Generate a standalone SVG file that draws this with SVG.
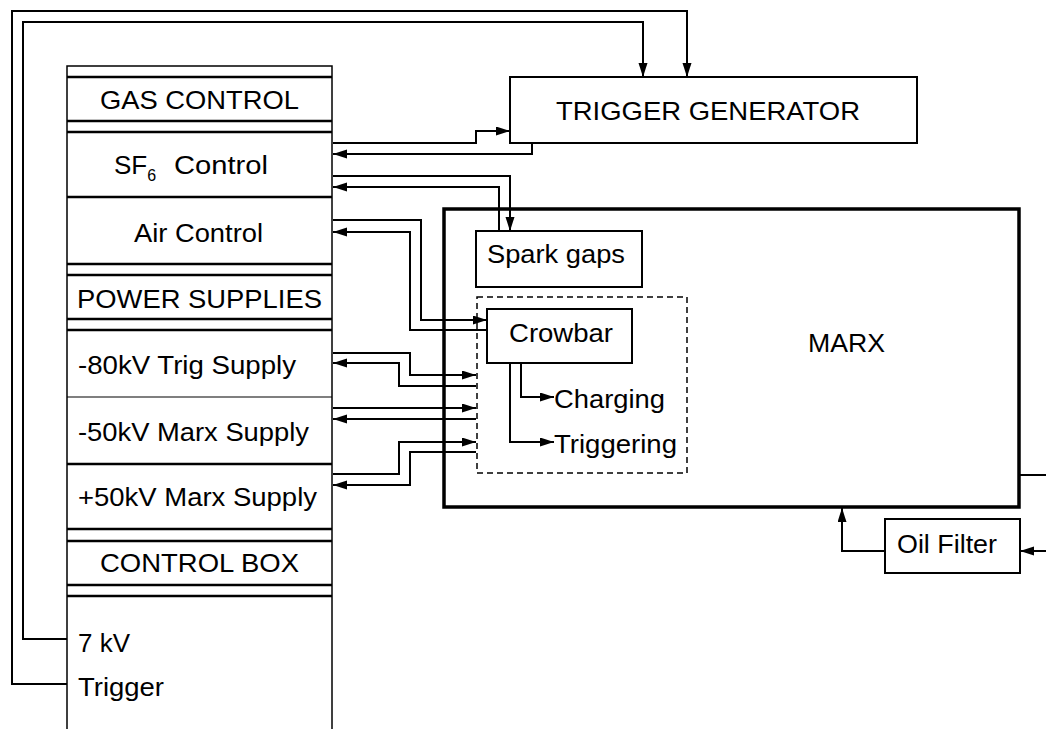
<svg xmlns="http://www.w3.org/2000/svg" width="1046" height="729" viewBox="0 0 1046 729">
<style>
text{font-family:"Liberation Sans",Arial,sans-serif;font-size:26px;fill:#000}
.box{fill:#fff;stroke:#000;stroke-width:2}
.sep{stroke:#000;stroke-width:2.5;fill:none}
.thin{stroke:#000;stroke-width:1.2;fill:none}
.c{fill:none;stroke:#000;stroke-width:2}
.a{marker-end:url(#ah)}
</style>
<defs>
<marker id="ah" markerUnits="userSpaceOnUse" markerWidth="16" markerHeight="10" refX="14" refY="4.5" orient="auto">
<path d="M0,0 L14,4.5 L0,9 z" fill="#000"/>
</marker>
</defs>
<rect width="1046" height="729" fill="#fff"/>

<g id="connectors">
<path class="c a" d="M67,684 H12 V11 H687 V77"/>
<path class="c a" d="M67,639 H23 V22 H643 V77"/>
<path class="c a" d="M333,143 H476 V131 H510"/>
<path class="c a" d="M532,143 V154 H333"/>
<path class="c a" d="M333,176 H510 V231"/>
<path class="c a" d="M499,231 V187 H333"/>
<path class="c a" d="M333,220 H421 V320 H487"/>
<path class="c a" d="M487,330 H410 V232 H333"/>
<path class="c a" d="M333,353 H410 V375 H476"/>
<path class="c a" d="M476,386 H399 V363 H333"/>
<path class="c a" d="M333,408 H476"/>
<path class="c a" d="M476,419 H333"/>
<path class="c a" d="M333,474 H399 V442 H476"/>
<path class="c a" d="M476,452 H410 V485 H333"/>
<path class="c a" d="M521,363 V397 H554"/>
<path class="c a" d="M510,363 V442 H554"/>
<path class="c a" d="M885,551 H842 V508"/>
<path class="c a" d="M1046,551 H1020"/>
<path class="c" d="M1020,475 H1046"/>
</g>

<g id="control-panel">
<rect x="67" y="66" width="265" height="670" fill="none" stroke="#000" stroke-width="1.5"/>
<path class="sep" d="M67,77 H332 M67,121 H332 M67,132 H332 M67,197 H332 M67,264 H332 M67,275 H332 M67,319 H332 M67,330 H332 M67,464 H332 M67,529 H332 M67,541 H332 M67,585 H332 M67,596 H332"/>
<path class="thin" d="M67,397 H332"/>
<text x="100" y="109" textLength="199" lengthAdjust="spacingAndGlyphs">GAS CONTROL</text>
<text x="114" y="174">SF<tspan font-size="16" dy="7">6</tspan><tspan x="174" dy="-7" textLength="94" lengthAdjust="spacingAndGlyphs">Control</tspan></text>
<text x="134" y="242" textLength="129" lengthAdjust="spacingAndGlyphs">Air Control</text>
<text x="77" y="308" textLength="245" lengthAdjust="spacingAndGlyphs">POWER SUPPLIES</text>
<text x="78" y="374" textLength="218" lengthAdjust="spacingAndGlyphs">-80kV Trig Supply</text>
<text x="78" y="441" textLength="231" lengthAdjust="spacingAndGlyphs">-50kV Marx Supply</text>
<text x="78" y="506" textLength="239" lengthAdjust="spacingAndGlyphs">+50kV Marx Supply</text>
<text x="100" y="572" textLength="199" lengthAdjust="spacingAndGlyphs">CONTROL BOX</text>
<text x="78" y="652" textLength="52" lengthAdjust="spacingAndGlyphs">7 kV</text>
<text x="78" y="696" textLength="86" lengthAdjust="spacingAndGlyphs">Trigger</text>
</g>

<g id="trigger-generator">
<rect class="box" x="510" y="77" width="407" height="66"/>
<text x="556" y="120" textLength="304" lengthAdjust="spacingAndGlyphs">TRIGGER GENERATOR</text>
</g>

<g id="marx">
<rect x="444" y="209" width="575" height="298" fill="none" stroke="#000" stroke-width="3.5"/>
<text x="808" y="352" textLength="77" lengthAdjust="spacingAndGlyphs">MARX</text>
</g>

<g id="spark-gaps">
<rect class="box" x="476" y="231" width="166" height="56"/>
<text x="487" y="263" textLength="138" lengthAdjust="spacingAndGlyphs">Spark gaps</text>
</g>

<g id="crowbar-group">
<rect x="477" y="297" width="210" height="176" fill="none" stroke="#000" stroke-width="1.5" stroke-dasharray="6,4"/>
</g>

<g id="crowbar">
<rect class="box" x="487" y="309" width="145" height="54"/>
<text x="509" y="342" textLength="104" lengthAdjust="spacingAndGlyphs">Crowbar</text>
</g>

<g id="charging">
<text x="554" y="408" textLength="111" lengthAdjust="spacingAndGlyphs">Charging</text>
</g>
<g id="triggering">
<text x="554" y="453" textLength="123" lengthAdjust="spacingAndGlyphs">Triggering</text>
</g>

<g id="oil-filter">
<rect class="box" x="885" y="519" width="135" height="54"/>
<text x="897" y="553" textLength="100" lengthAdjust="spacingAndGlyphs">Oil Filter</text>
</g>
</svg>
